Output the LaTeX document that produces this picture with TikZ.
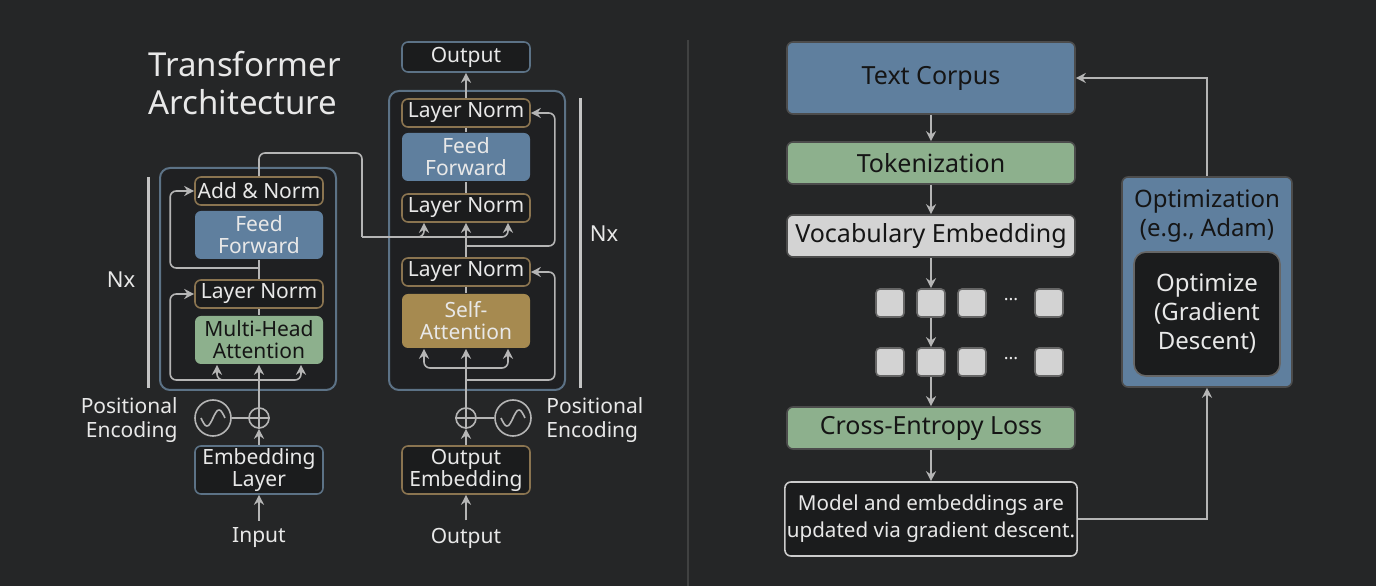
\documentclass[tikz,border=0pt]{standalone}
\usepackage{fontspec}
\setmainfont{Noto Sans}
\usetikzlibrary{arrows.meta,positioning,calc}
\definecolor{bgc}{HTML}{252627}
\definecolor{boxdark}{HTML}{1B1C1D}
\definecolor{cont}{HTML}{1F2022}
\definecolor{blueb}{HTML}{5F7F9E}
\definecolor{greenb}{HTML}{8DB08D}
\definecolor{goldb}{HTML}{A68A50}
\definecolor{greyb}{HTML}{D3D3D3}
\definecolor{tanl}{HTML}{8A7450}
\definecolor{bluel}{HTML}{5C7286}
\definecolor{wire}{HTML}{B5B5B5}
\definecolor{txt}{HTML}{E8E8E8}
\definecolor{dtxt}{HTML}{151515}

\begin{document}
\begin{tikzpicture}[
		x=0.5pt, y=-0.5pt,
		line width=0.8pt,
		box/.style={rounded corners=3pt, minimum width=64pt, align=center, font=\fontsize{10.5}{11}\selectfont, text=txt, inner sep=1pt},
		norm/.style={box, draw=tanl, fill=boxdark, minimum height=14pt},
		ffwd/.style={box, fill=blueb, minimum height=24pt},
		cont/.style={draw=bluel, fill=cont, rounded corners=5pt, line width=1pt},
		wire/.style={draw=wire, rounded corners=3pt},
		arr/.style={wire, -{Stealth[length=5pt,width=5pt]}},
		flow/.style={box, minimum width=144pt, text=dtxt, font=\fontsize{12.5}{14}\selectfont, draw=black!70},
		tok/.style={rounded corners=2pt, fill=greyb, draw=black!60, minimum size=14pt, inner sep=0pt},
		side/.style={font=\fontsize{10.5}{12}\selectfont, text=txt},
	]
		\fill[bgc] (0,0) rectangle (1376,586);
		\draw[black!55!bgc!80!white, line width=0.6pt] (688,40) -- (688,586);

		% title
		\node (title) [anchor=west, align=left, text=txt, font=\fontsize{16.5}{19}\selectfont] at (141,83) {Transformer\\Architecture};

		% encoder
		\draw[cont] (160,168) rectangle (336,390);
		\node (enc add) [norm] at (259,191) {Add \& Norm};
		\node (enc ff) [ffwd] at (259,235) {Feed\\Forward};
		\node (enc ln) [norm] at (259,294) {Layer Norm};
		\node (enc mha) [ffwd, fill=greenb, text=dtxt] at (259,340) {Multi-Head\\Attention};
		\node (enc emb) [box, draw=bluel, fill=boxdark, minimum height=24pt] at (259,470) {Embedding\\Layer};
		\node (input) [side] at (259,538) {Input};
		\node (enc plus) [circle, draw=wire, minimum size=10pt, inner sep=0pt] at (259,418) {};
		\node (enc sin) [circle, draw=wire, minimum size=18pt, inner sep=0pt] at (213,418) {};
		\node (enc pos) [side, anchor=east, align=right] at (185,420) {Positional\\Encoding};
		\node (enc nx) [side, font=\fontsize{11}{12}\selectfont] at (121,280) {Nx};
		\draw[wire, line width=1.5pt, draw=wire!80] (148,177) -- (148,388);

		\coordinate (enc tap) at (259,380);
		\coordinate (enc mid) at (259,268);
		\draw[wire] (enc plus.north) -- (enc tap);
		\draw[arr] (enc tap) -- (enc mha.south);
		\draw[arr] (enc tap) -| ([xshift=-21pt]enc mha.south);
		\draw[arr] (enc tap) -| ([xshift=21pt]enc mha.south);
		\draw[arr] (enc tap) -| ([xshift=-12pt]enc ln.west) -- (enc ln.west);
		\draw[wire] (enc ln.north) -- (enc ff.south);
		\draw[arr] (enc mid) -| ([xshift=-12pt]enc add.west) -- (enc add.west);
		\draw[wire] (enc mha.north) -- (enc ln.south);
		\draw[arr] (enc emb.north) -- (enc plus.south);
		\draw[arr] (input.north) -- (enc emb.south);
		\draw[wire] (enc sin.east) -- (enc plus.west);
		\draw[wire] (enc plus.north) -- (enc plus.south) (enc plus.west) -- (enc plus.east);
		\draw[wire, rounded corners=0pt] plot[domain=-1:1, samples=30] ({213+\x*12}, {418-8*sin(\x*180)});

		% decoder
		\node (dec out) [box, draw=bluel, fill=boxdark, minimum height=15pt] at (466,57) {Output};
		\draw[cont] (389,91) rectangle (565,390);
		\node (dec ln1) [norm] at (466,113) {Layer Norm};
		\node (dec ff) [ffwd] at (466,157) {Feed\\Forward};
		\node (dec ln2) [norm] at (466,208) {Layer Norm};
		\node (dec ln3) [norm] at (466,272) {Layer Norm};
		\node (dec sa) [ffwd, fill=goldb, minimum height=27pt] at (466,321) {Self-\\Attention};
		\node (dec emb) [box, draw=tanl, fill=boxdark, minimum height=24pt] at (466,470) {Output\\Embedding};
		\node (output) [side] at (466,538) {Output};
		\node (dec plus) [circle, draw=wire, minimum size=10pt, inner sep=0pt] at (466,418) {};
		\node (dec sin) [circle, draw=wire, minimum size=18pt, inner sep=0pt] at (513,418) {};
		\node (dec pos) [side, anchor=west, align=left] at (539,420) {Positional\\Encoding};
		\node (dec nx) [side, font=\fontsize{11}{12}\selectfont] at (604,234) {Nx};
		\draw[wire, line width=1.5pt, draw=wire!80] (580,98) -- (580,388);

		\coordinate (dec tap) at (466,380);
		\coordinate (dec fan) at (466,368);
		\coordinate (dec mid) at (466,246);
		\draw[wire] (dec plus.north) -- (dec tap);
		\draw[arr] (dec tap) -- (dec sa.south);
		\draw[arr] (dec fan) -| ([xshift=-21pt]dec sa.south);
		\draw[arr] (dec fan) -| ([xshift=21pt]dec sa.south);
		\draw[arr] (dec tap) -| ([xshift=12pt]dec ln3.east) -- (dec ln3.east);
		\draw[wire] (dec sa.north) -- (dec ln3.south);
		\draw[arr] (dec ln3.north) -- (dec ln2.south);
		\draw[arr] (dec mid) -| ([xshift=12pt]dec ln1.east) -- (dec ln1.east);
		\draw[wire] (dec ln2.north) -- (dec ff.south);
		\draw[wire] (dec ff.north) -- (dec ln1.south);
		\draw[arr] (dec ln1.north) -- (dec out.south);
		\draw[arr] (dec emb.north) -- (dec plus.south);
		\draw[arr] (output.north) -- (dec emb.south);
		\draw[wire] (dec plus.east) -- (dec sin.west);
		\draw[wire] (dec plus.north) -- (dec plus.south) (dec plus.west) -- (dec plus.east);
		\draw[wire, rounded corners=0pt] plot[domain=-1:1, samples=30] ({513+\x*12}, {418-8*sin(\x*180)});

		% encoder output into decoder
		\coordinate (cross a) at (362,153);
		\coordinate (cross b) at (362,237);
		\draw[wire] (enc add.north) |- (cross a) -- (cross b);
		\draw[arr] (cross b) -| ([xshift=-21pt]dec ln2.south);
		\draw[arr] (cross b) -| ([xshift=21pt]dec ln2.south);

		% training pipeline
		\node (corpus) [flow, fill=blueb, minimum height=36pt] at (931,78) {Text Corpus};
		\node (tokens) [flow, fill=greenb, minimum height=21pt] at (931,163) {Tokenization};
		\node (vocab) [flow, fill=greyb, minimum height=21pt] at (931,236) {Vocabulary Embedding};
		\foreach \r/\y in {a/303, b/362} {
			\foreach \i/\x in {1/890, 2/931, 3/972, 5/1049}
				\node (tok \r\i) [tok] at (\x,\y) {};
			\node (tok \r4) [text=txt, font=\small] at (1011,\y-3) {...};
		}
		\node (loss) [flow, fill=greenb, minimum height=21pt] at (931,428) {Cross-Entropy Loss};
		\node (update) [flow, fill=boxdark, draw=wire!70, text=txt, minimum height=37pt, font=\fontsize{10.3}{13.5}\selectfont] at (931,519) {Model and embeddings are\\updated via gradient descent.};
		\node (optim) [box, fill=blueb, draw=black!70, minimum width=85pt, minimum height=105pt] at (1207,282) {};
		\node (optim lbl) [text=dtxt, align=center, font=\fontsize{12}{14.5}\selectfont] at (1207,216) {Optimization\\(e.g., Adam)};
		\node (optim in) [box, fill=boxdark, draw=black!60, minimum width=73pt, minimum height=62pt, rounded corners=6pt, font=\fontsize{12}{14.5}\selectfont] at (1207,314) {Optimize\\(Gradient\\Descent)};

		\draw[arr] (corpus) -- (tokens);
		\draw[arr] (tokens) -- (vocab);
		\draw[arr] (vocab) -- (tok a2);
		\draw[arr] (tok a2) -- (tok b2);
		\draw[arr] (tok b2) -- (loss);
		\draw[arr] (loss) -- (update);
		\draw[arr, rounded corners=0pt] (update.east) -| (optim.south);
		\draw[arr, rounded corners=0pt] (optim.north) |- (corpus.east);
	\end{tikzpicture}
\end{document}
